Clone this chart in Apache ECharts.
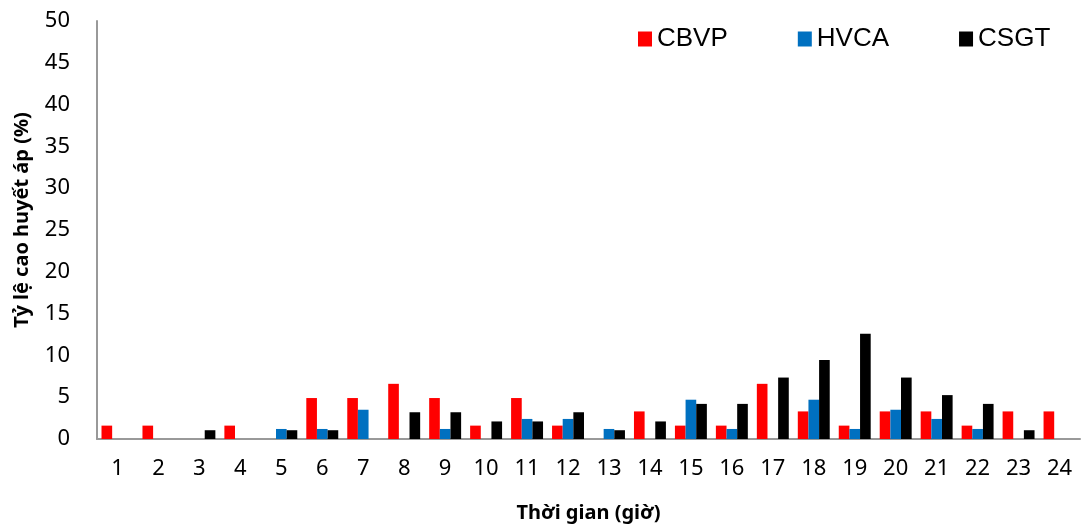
<!DOCTYPE html>
<html><head><meta charset="utf-8">
<script src="https://cdn.jsdelivr.net/npm/echarts@6/dist/echarts.min.js"></script>
<style>html,body{margin:0;padding:0;background:#fff}#c{width:1084px;height:529px}</style>
</head><body><div id="c"></div>
<script>
const categories = ['1','2','3','4','5','6','7','8','9','10','11','12','13','14','15','16','17','18','19','20','21','22','23','24'];
const cbvp = [1.6,1.6,0,1.6,0,4.9,4.9,6.6,4.9,1.6,4.9,1.6,0,3.3,1.6,1.6,6.6,3.3,1.6,3.3,3.3,1.6,3.3,3.3];
const hvca = [0,0,0,0,1.2,1.2,3.5,0,1.2,0,2.4,2.4,1.2,0,4.7,1.2,0,4.7,1.2,3.5,2.4,1.2,0,0];
const csgt = [0,0,1.05,0,1.05,1.05,0,3.2,3.2,2.1,2.1,3.2,1.05,2.1,4.2,4.2,7.35,9.45,12.6,7.35,5.25,4.2,1.05,0];
const yTicks = {min:0, max:50, interval:5};

const chart = echarts.init(document.getElementById('c'));
const font = 'Liberation Sans, Arial, sans-serif';
const tickFont = 'Noto Sans, Open Sans, sans-serif';
chart.setOption({
  animation:false,
  textStyle:{fontFamily:font},
  grid:{left:97,right:4,top:21,bottom:90,containLabel:false},
  legend:{
    left:633, top:21, itemWidth:14, itemHeight:15, itemGap:70,
    icon:'rect',
    textStyle:{fontSize:26,color:'#000',fontFamily:font},
    data:['CBVP','HVCA','CSGT']
  },
  graphic:[{
    type:'text', x:22, y:220, rotation:Math.PI/2,
    style:{text:'Tỷ lệ cao huyết áp (%)', fontSize:20, fontWeight:'bold', fill:'#000',
      fontFamily:tickFont, align:'center', verticalAlign:'middle'}
  }],
  xAxis:{
    type:'category', data:categories,
    axisLine:{lineStyle:{color:'#999',width:2}},
    axisTick:{show:false},
    axisLabel:{fontSize:22,color:'#000',margin:19,fontFamily:tickFont},
    name:'Thời gian (giờ)', nameLocation:'middle', nameGap:64,
    nameTextStyle:{fontSize:20,fontWeight:'bold',color:'#000',fontFamily:tickFont}
  },
  yAxis:{
    type:'value', min:yTicks.min, max:yTicks.max, interval:yTicks.interval,
    splitLine:{show:false},
    axisLine:{show:true,lineStyle:{color:'#999',width:2}},
    axisTick:{show:false},
    axisLabel:{fontSize:22,color:'#000',margin:27,fontFamily:tickFont}
  },
  series:[
    {name:'CBVP',type:'bar',data:cbvp,itemStyle:{color:'#ff0000'},barGap:'0%',barCategoryGap:'22%'},
    {name:'HVCA',type:'bar',data:hvca,itemStyle:{color:'#0070c0'},barGap:'0%',barCategoryGap:'22%'},
    {name:'CSGT',type:'bar',data:csgt,itemStyle:{color:'#000000'},barGap:'0%',barCategoryGap:'22%'}
  ]
});
</script></body></html>
